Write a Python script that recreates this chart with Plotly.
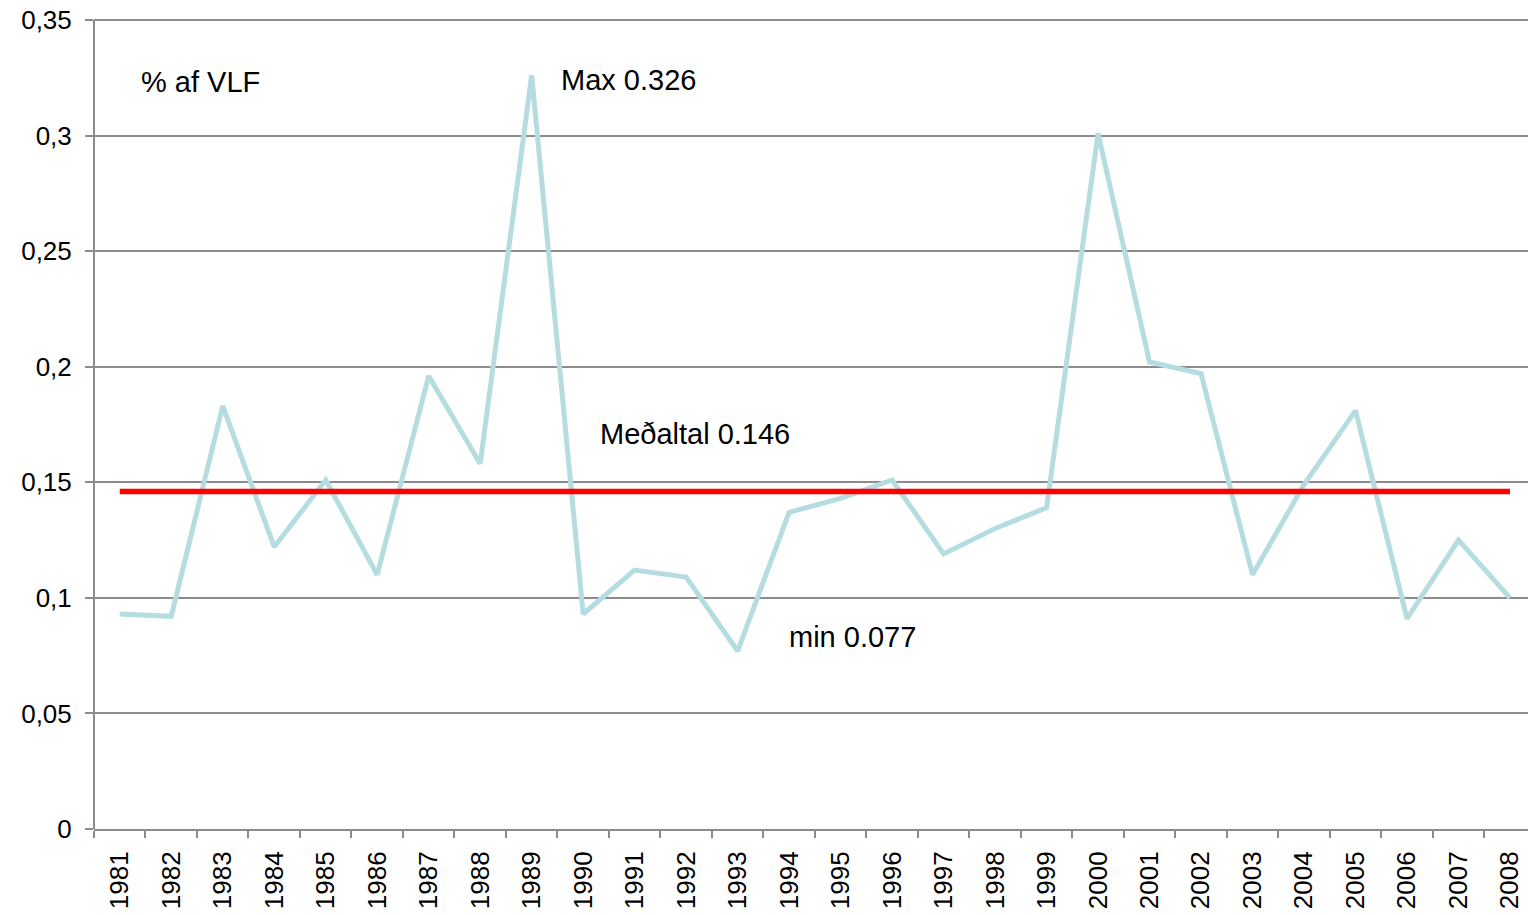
import plotly.graph_objects as go

years = [str(y) for y in range(1981, 2009)]
values = [0.093, 0.092, 0.183, 0.122, 0.151, 0.110, 0.196, 0.158, 0.326, 0.093,
          0.112, 0.109, 0.077, 0.137, 0.143, 0.151, 0.119, 0.130, 0.139, 0.301,
          0.202, 0.197, 0.110, 0.149, 0.181, 0.091, 0.125, 0.100]
mean_value = 0.146
mean_line = [mean_value] * len(years)
y_ticks = [0, 0.05, 0.1, 0.15, 0.2, 0.25, 0.3, 0.35]
y_labels = ["0", "0,05", "0,1", "0,15", "0,2", "0,25", "0,3", "0,35"]
y_top = 0.353

# page body margin removed via post_script
OFF = 0
W, H = 1528 - OFF, 915 - OFF
B = 86
unit = 809 / 0.35
ph = round(y_top * unit)
L, R = 94 - OFF, 0
T = H - B - ph
pw = W - L - R

def px(x):
    return (x - OFF - L) / pw

def py(y):
    return (H - B - (y - OFF)) / ph

fig = go.Figure()
fig.add_trace(go.Scatter(x=years, y=values, mode="lines",
                         line=dict(color="#b5dde1", width=5), showlegend=False))
fig.add_trace(go.Scatter(x=years, y=mean_line, mode="lines",
                         line=dict(color="#ff0000", width=5.5), showlegend=False))

font = "Liberation Sans, Arial, sans-serif"
annots = [("% af VLF", 140, 82), ("Max 0.326", 560, 80),
          ("Meðaltal 0.146", 599, 434), ("min 0.077", 788, 637)]
for text, x, y in annots:
    fig.add_annotation(text=text, x=px(x), y=py(y), xref="paper", yref="paper",
                       xanchor="left", yanchor="middle", showarrow=False,
                       xshift=-1,
                       font=dict(family=font, size=29, color="#000000"))

# vertical axis line ending at the top tick
fig.add_shape(type="line", xref="paper", yref="y", x0=0, x1=0,
              y0=0, y1=y_ticks[-1], line=dict(color="#8c8c8c", width=2))

fig.update_layout(
    width=W, height=H,
    margin=dict(l=L, r=R, t=T, b=B, autoexpand=False),
    plot_bgcolor="white", paper_bgcolor="white",
    font=dict(family=font, size=26, color="#000000"),
)
fig.update_xaxes(type="category", range=[-0.5, 27.35], tickson="boundaries",
                 ticks="outside", ticklen=7, tickwidth=2, tickcolor="#8c8c8c",
                 showline=True, linecolor="#8c8c8c", linewidth=2,
                 showgrid=False, tickangle=-90, ticklabelstandoff=10,
                 ticklabeloverflow="allow", automargin=False,
                 tickfont=dict(family=font, size=26, color="#000000"))
fig.update_yaxes(range=[0, y_top], tickmode="array", tickvals=y_ticks,
                 ticktext=y_labels,
                 ticks="outside", ticklen=8, tickwidth=2, tickcolor="#8c8c8c",
                 showline=False,
                 showgrid=True, gridcolor="#8c8c8c", gridwidth=1.5,
                 zeroline=False, ticklabelstandoff=8,
                 ticklabeloverflow="allow", automargin=False,
                 tickfont=dict(family=font, size=26, color="#000000"))

fig.write_html("out.html", config={"displayModeBar": False},
               post_script="document.body.style.margin='0';document.body.style.overflow='hidden';")
